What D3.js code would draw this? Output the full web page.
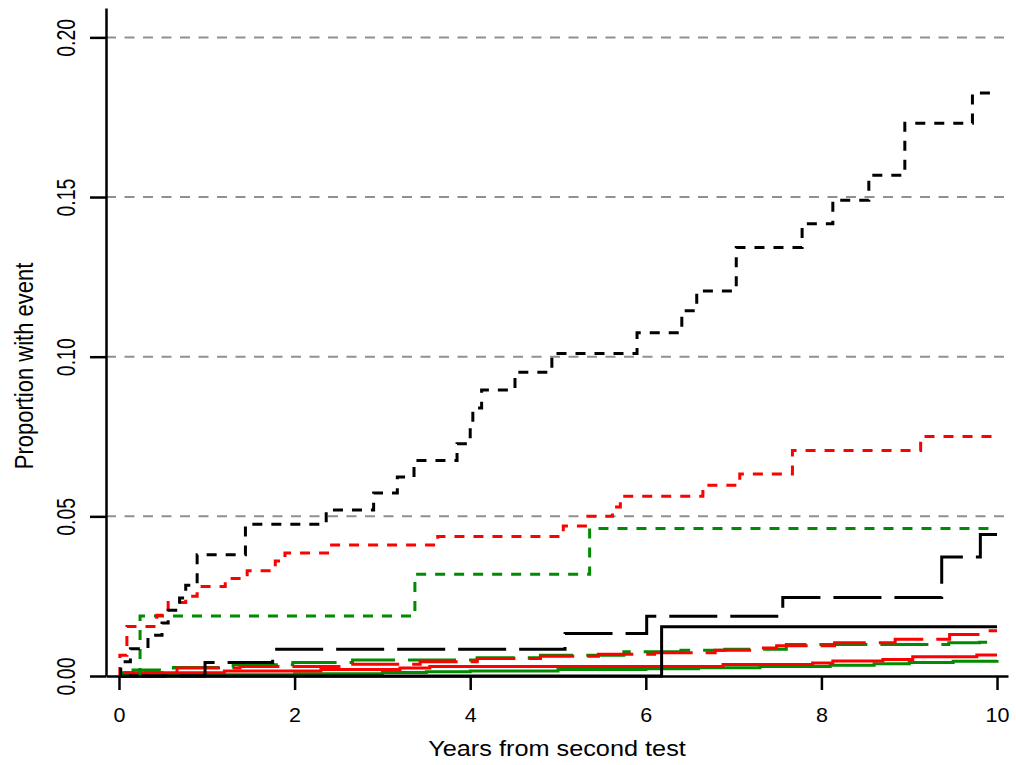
<!DOCTYPE html>
<html>
<head>
<meta charset="utf-8">
<script src="https://cdn.jsdelivr.net/npm/d3@7"></script>
<style>
	body { margin: 0; background: #fff; }
	svg text { font-family: "Liberation Sans", Arial, sans-serif; fill: #000; }
</style>
</head>
<body>
<svg id="chart" width="1016" height="765"></svg>
<script>
// each curve: [years, proportion] at every jump of the step function
let blackShortDash = [[0, 0], [0.02, 0.0045], [0.13, 0.0085], [0.33, 0.0128], [0.49, 0.0166], [0.56, 0.0206], [0.69, 0.0244], [0.76, 0.0284], [0.89, 0.038], [1.44, 0.0475], [2.36, 0.052], [2.90, 0.0573], [3.17, 0.0623], [3.36, 0.0675], [3.85, 0.0727], [4.00, 0.0784], [4.03, 0.0839], [4.13, 0.0896], [4.51, 0.0951], [4.93, 0.101], [5.90, 0.1075], [6.41, 0.1144], [6.58, 0.1206], [7.03, 0.1342], [7.78, 0.1416], [8.13, 0.149], [8.54, 0.1568], [8.95, 0.1731], [9.72, 0.1826], [10, 0.1826]];
let redShortDash = [[0, 0], [0.01, 0.0065], [0.09, 0.0155], [0.43, 0.019], [0.56, 0.023], [0.76, 0.025], [0.89, 0.028], [1.21, 0.0305], [1.46, 0.033], [1.78, 0.036], [1.89, 0.0385], [2.40, 0.041], [3.63, 0.0437], [5.06, 0.047], [5.34, 0.050], [5.62, 0.0529], [5.71, 0.0563], [6.65, 0.0597], [7.07, 0.0633], [7.67, 0.0706], [9.13, 0.075], [10, 0.075]];
let greenShortDash = [[0, 0], [0.24, 0.0188], [3.37, 0.0319], [5.36, 0.0462], [10, 0.0462]];
let blackLongDash = [[0, 0], [0.98, 0.0042], [1.75, 0.0084], [5.08, 0.0133], [6.01, 0.0187], [7.56, 0.0246], [9.37, 0.0373], [9.81, 0.0443], [10, 0.0443]];
let blackSolid = [[0, 0], [6.18, 0.0154], [10, 0.0154]];
let redLongDash = [[0, 0], [0.07, 0.001], [0.66, 0.0025], [1.38, 0.003], [2.63, 0.0037], [3.43, 0.0045], [4.08, 0.0055], [4.80, 0.0062], [5.46, 0.0068], [6.10, 0.0073], [6.79, 0.0081], [7.30, 0.0088], [7.49, 0.0095], [8.15, 0.0104], [8.84, 0.0115], [9.46, 0.013], [9.86, 0.0142], [10, 0.0142]];
let greenLongDash = [[0, 0], [0.05, 0.001], [0.16, 0.0019], [0.62, 0.0027], [1.30, 0.0035], [1.98, 0.0042], [2.66, 0.005], [4.08, 0.0057], [4.80, 0.0065], [5.75, 0.0076], [6.40, 0.0081], [6.90, 0.0084], [7.60, 0.0099], [9.45, 0.0104], [9.80, 0.0106], [10, 0.0106]];
let redSolid = [[0, 0], [0.10, 0.0005], [0.30, 0.001], [1.20, 0.0016], [2.30, 0.002], [3.20, 0.0025], [3.54, 0.003], [6.88, 0.0036], [7.90, 0.0041], [8.13, 0.0047], [8.70, 0.0052], [9.04, 0.006], [9.77, 0.0066], [10, 0.0066]];
let greenSolid = [[0, 0], [0.50, 0.0002], [1.00, 0.0004], [2.00, 0.0007], [3.00, 0.0011], [3.50, 0.0013], [4.00, 0.0016], [5.00, 0.002], [6.00, 0.0023], [6.60, 0.0026], [7.30, 0.003], [8.10, 0.0034], [8.60, 0.0038], [9.00, 0.0042], [9.50, 0.0046], [10, 0.005]];

let xTicks = [0, 2, 4, 6, 8, 10];
let yTicks = [0, 0.05, 0.10, 0.15, 0.20];
let xTitle = "Years from second test";
let yTitle = "Proportion with event";

const RED = "#ff0000";
const GREEN = "#008b00";
const SHORT = "10,9";
const LONG = "48,13";

let plot = { left: 106, right: 1008, top: 8, bottom: 676 };

let svg = d3.select("#chart");

let x = d3.scaleLinear()
	.domain([-0.148, 10.125])
	.range([plot.left, plot.right]);

let y = d3.scaleLinear()
	.domain([0, 0.2092])
	.range([plot.bottom, plot.top]);

// grey reference lines
svg.append("g")
	.selectAll("line")
	.data(yTicks.filter(d => d > 0))
	.enter()
	.append("line")
	.attr("x1", plot.left)
	.attr("x2", plot.right)
	.attr("y1", d => y(d))
	.attr("y2", d => y(d))
	.attr("stroke", "#909090")
	.attr("stroke-width", 2)
	.attr("stroke-dasharray", "10,8.5");

let series = [
	{ data: greenSolid, color: GREEN, dash: null },
	{ data: redSolid, color: RED, dash: null },
	{ data: greenLongDash, color: GREEN, dash: LONG },
	{ data: redLongDash, color: RED, dash: LONG },
	{ data: blackSolid, color: "#000", dash: null },
	{ data: blackLongDash, color: "#000", dash: LONG },
	{ data: greenShortDash, color: GREEN, dash: SHORT },
	{ data: redShortDash, color: RED, dash: SHORT },
	{ data: blackShortDash, color: "#000", dash: SHORT }
];

let line = d3.line()
	.x(d => x(d[0]))
	.y(d => y(d[1]))
	.curve(d3.curveStepAfter);

svg.append("g")
	.selectAll("path")
	.data(series)
	.enter()
	.append("path")
	.attr("d", d => line(d.data))
	.attr("fill", "none")
	.attr("stroke", d => d.color)
	.attr("stroke-width", 3)
	.attr("stroke-dasharray", d => d.dash);

// axes
let xAxis = svg.append("g")
	.attr("transform", "translate(0," + plot.bottom + ")")
	.call(d3.axisBottom(x).tickValues(xTicks).tickSize(14).tickSizeOuter(0).tickPadding(17).tickFormat(d3.format("d")));

let yAxis = svg.append("g")
	.attr("transform", "translate(" + plot.left + ",0)")
	.call(d3.axisLeft(y).tickValues(yTicks).tickSize(16).tickSizeOuter(0).tickFormat(d3.format(".2f")));

svg.selectAll(".domain, .tick line")
	.attr("stroke", "#000")
	.attr("stroke-width", 2.5);

// the original lettering is a little wider than it is tall
xAxis.selectAll("text")
	.attr("transform", "scale(1.05,1)")
	.attr("font-size", "20.5px")
	.style("font-family", "'Liberation Sans', Arial, sans-serif");

yAxis.selectAll("text")
	.attr("x", null)
	.attr("dy", null)
	.attr("text-anchor", "middle")
	.attr("transform", "translate(-31,0) scale(1.3,1) rotate(-90)")
	.attr("font-size", "19.5px")
	.style("font-family", "'Liberation Sans', Arial, sans-serif");

svg.append("text")
	.attr("transform", "translate(" + (plot.left + plot.right) / 2 + ",756) scale(1.15,1)")
	.attr("text-anchor", "middle")
	.attr("font-size", "22px")
	.text(xTitle);

svg.append("text")
	.attr("transform", "translate(33,366) scale(1.15,1) rotate(-90)")
	.attr("text-anchor", "middle")
	.attr("font-size", "22px")
	.text(yTitle);
</script>
</body>
</html>
